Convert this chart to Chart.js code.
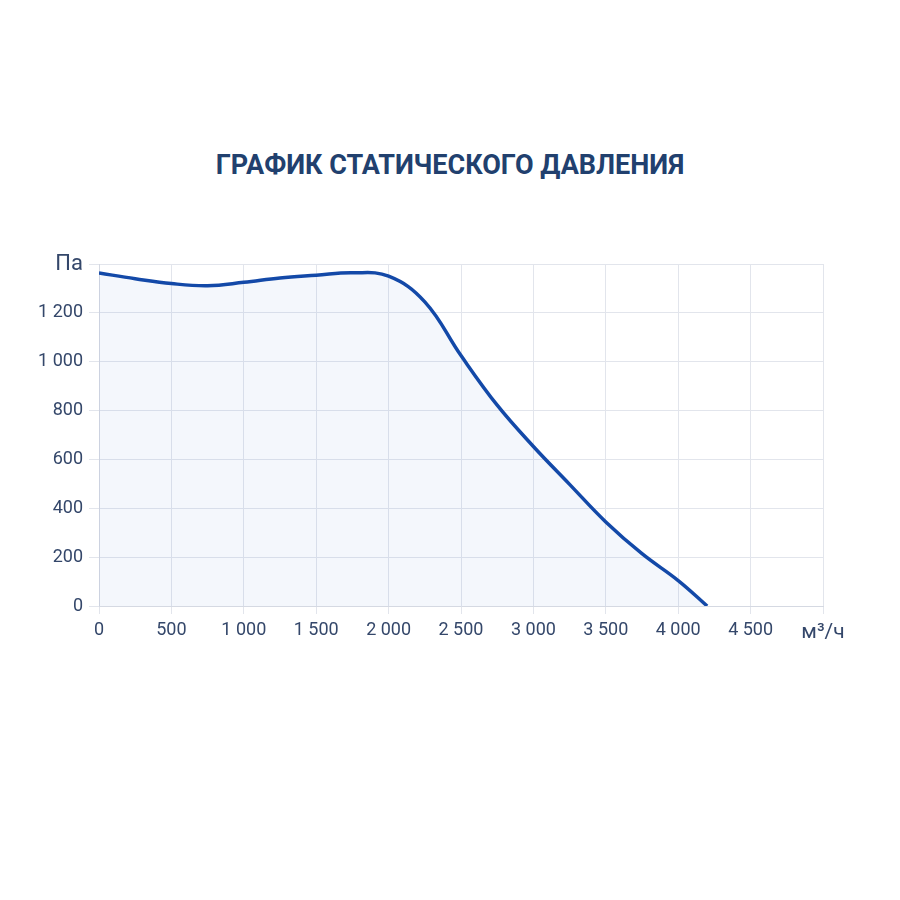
<!DOCTYPE html>
<html>
<head>
<meta charset="utf-8">
<script src="https://cdn.jsdelivr.net/npm/chart.js@4/dist/chart.umd.min.js"></script>
<style>
  body { margin: 0; background: #fff; }
  #wrap { position: relative; width: 900px; height: 900px; }
  #titulo {
    position: absolute; top: 149px; left: 0; width: 900px; text-align: center;
    font-family: Roboto, "Noto Sans", sans-serif; font-weight: bold; font-size: 27px;
    color: #21406e;
  }
  canvas { position: absolute; left: 0; top: 0; }
</style>
</head>
<body>
<div id="wrap">
  <div id="titulo">ГРАФИК СТАТИЧЕСКОГО ДАВЛЕНИЯ</div>
  <canvas id="grafico" width="900" height="900"></canvas>
</div>
<script>
// Расход воздуха, м³/ч
const caudal = [0, 250, 500, 750, 1000, 1250, 1500, 1750, 2000, 2250, 2500, 2750, 3000, 3250, 3500, 3750, 4000, 4200];
// Статическое давление, Па
const presion = [1363, 1340, 1320, 1311, 1325, 1343, 1354, 1364, 1350, 1245, 1025, 822, 653, 498, 344, 214, 104, 0];

const unidadX = 'м³/ч';
const unidadY = 'Па';

function formato(v) {
  return String(v).replace(/\B(?=(\d{3})+(?!\d))/g, ' ');
}

const puntos = caudal.map((x, i) => ({ x: x, y: presion[i] }));

const ctx = document.getElementById('grafico').getContext('2d');
new Chart(ctx, {
  type: 'line',
  data: {
    datasets: [{
      data: puntos,
      borderColor: '#1349a8',
      backgroundColor: 'rgba(40, 90, 200, 0.05)',
      borderWidth: 3.5,
      fill: 'origin',
      pointRadius: 0,
      tension: 0.4
    }]
  },
  options: {
    responsive: false,
    animation: false,
    layout: {
      padding: { left: 0, right: 77, top: 264, bottom: 0 }
    },
    plugins: {
      legend: { display: false },
      tooltip: { enabled: false }
    },
    scales: {
      x: {
        type: 'linear',
        min: 0,
        max: 5000,
        grid: { color: '#e2e5ec', tickLength: 8 },
        border: { color: '#d5d9e2' },
        afterFit: scale => { scale.height = 294; },
        ticks: {
          stepSize: 500,
          color: '#34476a',
          padding: 6,
          maxRotation: 0,
          font: c => ({ family: 'Roboto', size: c.tick && c.tick.value === 5000 ? 21 : 18 }),
          callback: v => v === 5000 ? unidadX : formato(v)
        }
      },
      y: {
        min: 0,
        max: 1400,
        grid: { color: '#e2e5ec', tickLength: 10 },
        border: { color: '#d5d9e2' },
        afterFit: scale => { scale.width = 99; },
        ticks: {
          stepSize: 200,
          color: '#34476a',
          padding: 6,
          font: c => ({ family: 'Roboto', size: c.tick && c.tick.value === 1400 ? 22 : 18 }),
          callback: v => v === 1400 ? unidadY : formato(v)
        }
      }
    }
  }
});
</script>
</body>
</html>
